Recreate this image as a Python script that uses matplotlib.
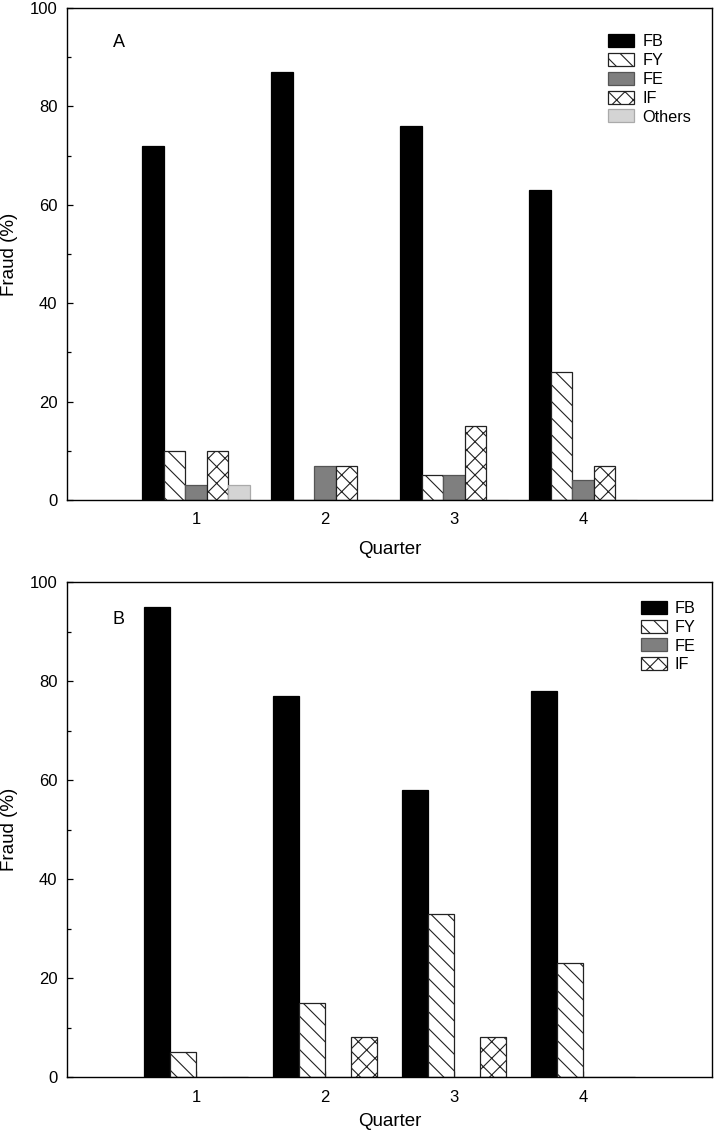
import numpy as np
import matplotlib
matplotlib.use("Agg")
import matplotlib.pyplot as plt
from matplotlib.ticker import MultipleLocator

plt.rcParams['font.family'] = ['Liberation Sans', 'DejaVu Sans']
plt.rcParams['hatch.linewidth'] = 0.8

quarters = [1, 2, 3, 4]
quarter_labels = ["1", "2", "3", "4"]

# Panel A
a_series = ["FB", "FY", "FE", "IF", "Others"]
a_FB = [72, 87, 76, 63]
a_FY = [10, 0, 5, 26]
a_FE = [3, 7, 5, 4]
a_IF = [10, 7, 15, 7]
a_Others = [3, 0, 0, 0]

# Panel B
b_series = ["FB", "FY", "FE", "IF"]
b_FB = [95, 77, 58, 78]
b_FY = [5, 15, 33, 23]
b_FE = [0, 0, 0, 0]
b_IF = [0, 8, 8, 0]

styles = {
    "FB": dict(color="black", hatch=None, edgecolor="black"),
    "FY": dict(color="white", hatch="\\\\", edgecolor="#222222"),
    "FE": dict(color="#7f7f7f", hatch=None, edgecolor="#555555"),
    "IF": dict(color="white", hatch="xx", edgecolor="#222222"),
    "Others": dict(color="#d4d4d4", hatch=None, edgecolor="#aaaaaa"),
}

fig = plt.figure(figsize=(7.24, 11.32), dpi=100)
axA = fig.add_axes([67/724, (1132-500)/1132, 645/724, 492/1132])
axB = fig.add_axes([67/724, (1132-1077)/1132, 645/724, 495/1132])


def draw(ax, names, data, letter, leg_anchor, xlabelpad, letter_y):
    n = len(names)
    w = 1.0 / 6 if n == 5 else 0.2
    x = np.array(quarters, dtype=float)
    for i, (name, vals) in enumerate(zip(names, data)):
        off = (i - (n - 1) / 2) * w
        st = styles[name]
        ax.bar(x + off, vals, width=w, color=st["color"], hatch=st["hatch"],
               edgecolor=st["edgecolor"], linewidth=0.9, label=name, zorder=2)
    ax.set_xlim(0, 5)
    ax.set_ylim(0, 100)
    ax.set_xticks(quarters)
    ax.set_xticklabels(quarter_labels)
    ax.yaxis.set_major_locator(MultipleLocator(20))
    ax.yaxis.set_minor_locator(MultipleLocator(10))
    ax.tick_params(axis='both', which='both', direction='in', labelsize=12,
                   top=False, right=False)
    ax.tick_params(axis='x', which='major', pad=9)
    ax.tick_params(axis='y', which='major', pad=7)
    ax.tick_params(axis='both', which='major', length=4, width=0.9)
    ax.tick_params(axis='y', which='minor', length=3, width=0.9)
    ax.tick_params(axis='x', which='minor', bottom=False)
    for s in ax.spines.values():
        s.set_linewidth(1.0)
    ax.set_xlabel("Quarter", fontsize=13.5, labelpad=xlabelpad)
    ax.set_ylabel("Fraud (%)", fontsize=13.5, labelpad=8)
    ax.text(0.071, letter_y, letter, transform=ax.transAxes, fontsize=13,
            ha='left', va='center')
    ax.legend(loc='upper right', bbox_to_anchor=leg_anchor, frameon=False,
              fontsize=11.7, handlelength=1.6, handleheight=0.85,
              labelspacing=0.23, handletextpad=0.5, borderaxespad=0,
              borderpad=0)


draw(axA, a_series, [a_FB, a_FY, a_FE, a_IF, a_Others], "A", (0.968, 0.947), 10, 0.929)
draw(axB, b_series, [b_FB, b_FY, b_FE, b_IF], "B", (0.975, 0.962), 6, 0.925)

fig.savefig("out.png", dpi=100)
